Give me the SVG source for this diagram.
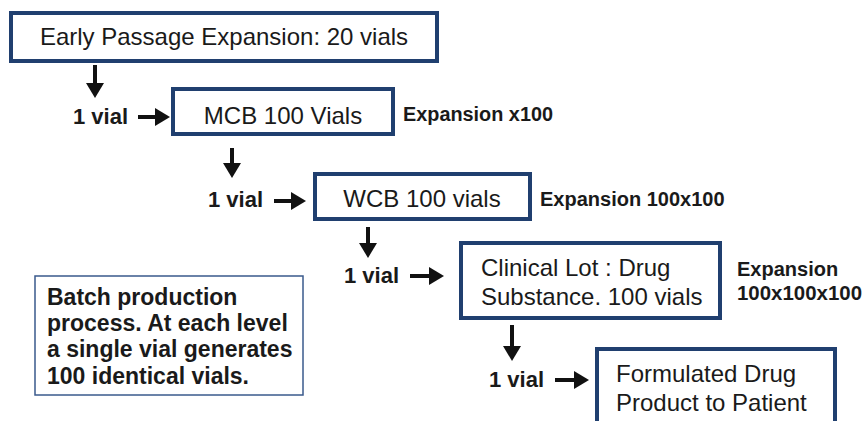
<svg xmlns="http://www.w3.org/2000/svg" width="865" height="421" viewBox="0 0 865 421">
<defs>
<marker id="ah" viewBox="0 0 15 18" refX="0" refY="9" markerWidth="15" markerHeight="18" markerUnits="userSpaceOnUse" orient="auto">
<path d="M0,0 L15,9 L0,18 z" fill="#111"/>
</marker>
<style>
.box{fill:#fff;stroke:#203f6f;stroke-width:4}
.note{fill:#fff;stroke:#3a5a8c;stroke-width:1.5}
.t{font-family:"Liberation Sans",Arial,sans-serif;font-size:24px;fill:#1a1a1a}
.b{font-family:"Liberation Sans",Arial,sans-serif;font-weight:bold;fill:#1a1a1a}
.v{font-size:22px}
.e{font-size:20px}
.n{font-size:23px}
.c line{stroke:#111;stroke-width:4;marker-end:url(#ah)}
</style>
</defs>
<rect width="865" height="421" fill="#fff"/>
<g id="early"><rect class="box" x="11" y="13" width="426" height="48"/><text class="t" x="224" y="45" text-anchor="middle">Early Passage Expansion: 20 vials</text></g>
<g id="mcb"><rect class="box" x="173" y="89" width="220" height="45"/><text class="t" x="283" y="124" text-anchor="middle">MCB 100 Vials</text></g>
<g id="wcb"><rect class="box" x="315" y="174" width="215" height="45"/><text class="t" x="422" y="207" text-anchor="middle">WCB 100 vials</text></g>
<g id="clinical"><rect class="box" x="461" y="243" width="259" height="75"/><text class="t" x="481" y="276">Clinical Lot : Drug</text><text class="t" x="481" y="305">Substance. 100 vials</text></g>
<g id="formulated"><rect class="box" x="597" y="349" width="238" height="80"/><text class="t" x="616" y="382">Formulated Drug</text><text class="t" x="616" y="411">Product to Patient</text></g>
<g id="note"><rect class="note" x="35" y="276" width="268" height="119"/>
<text class="b n" x="47" y="305">Batch production</text>
<text class="b n" x="47" y="331">process. At each level</text>
<text class="b n" x="47" y="357">a single vial generates</text>
<text class="b n" x="47" y="384">100 identical vials.</text></g>
<g id="labels">
<text class="b v" x="73" y="124">1 vial</text>
<text class="b v" x="208" y="207">1 vial</text>
<text class="b v" x="344" y="283">1 vial</text>
<text class="b v" x="489" y="387">1 vial</text>
<text class="b e" x="403" y="121" textLength="150" lengthAdjust="spacingAndGlyphs">Expansion x100</text>
<text class="b e" x="540" y="206">Expansion 100x100</text>
<text class="b e" x="737" y="276">Expansion</text>
<text class="b e" x="737" y="300" textLength="125" lengthAdjust="spacingAndGlyphs">100x100x100</text>
</g>
<g id="connectors" class="c">
<line x1="95" y1="65" x2="95" y2="83"/>
<line x1="138" y1="117" x2="155" y2="117"/>
<line x1="232" y1="148" x2="232" y2="163"/>
<line x1="274" y1="201" x2="291" y2="201"/>
<line x1="368" y1="227" x2="368" y2="243"/>
<line x1="410" y1="276" x2="429" y2="276"/>
<line x1="512" y1="325" x2="512" y2="346"/>
<line x1="555" y1="380" x2="574" y2="380"/>
</g>
</svg>
